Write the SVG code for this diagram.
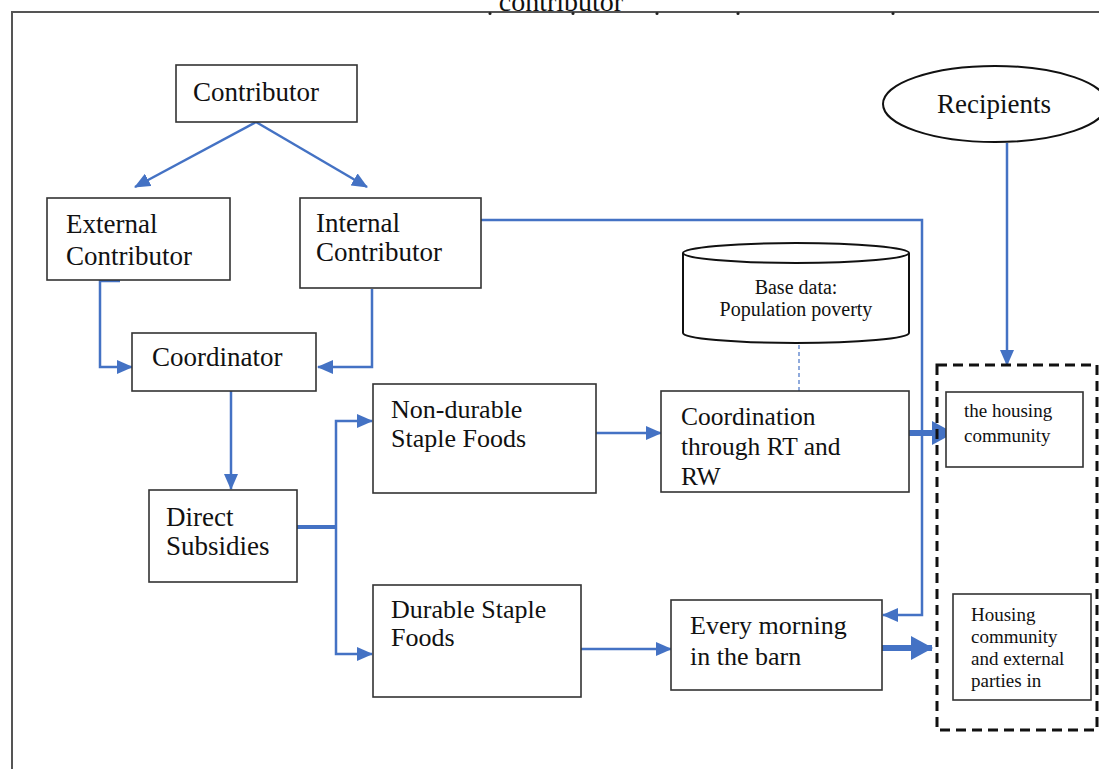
<svg xmlns="http://www.w3.org/2000/svg" width="1099" height="769" viewBox="0 0 1099 769">
<style>
.box{fill:#fff;stroke:#333;stroke-width:1.6}
.t{font-family:'Liberation Serif','DejaVu Serif',serif;font-size:26px;fill:#111}
.b{font-size:27px}
.s{font-family:'Liberation Serif','DejaVu Serif',serif;font-size:19px;fill:#111}
.c{fill:none;stroke:#4472C4;stroke-width:2.5}
.ck{fill:none;stroke:#4472C4;stroke-width:6}
</style>
<defs>
<marker id="ah" markerUnits="userSpaceOnUse" markerWidth="16" markerHeight="14" refX="15" refY="7" orient="auto">
<path d="M0,0 L16,7 L0,14 Z" fill="#4472C4"/>
</marker>
<marker id="ahb" markerUnits="userSpaceOnUse" markerWidth="22" markerHeight="24" refX="21" refY="12" orient="auto">
<path d="M0,0 L22,12 L0,24 Z" fill="#4472C4"/>
</marker>
</defs>
<rect width="1099" height="769" fill="#fff"/>
<g id="frame">
<path d="M12,769 L12,12 L1099,12" fill="none" stroke="#555" stroke-width="2"/>
<text x="561" y="11" text-anchor="middle" class="t" style="font-size:28px">contributor</text>
<g fill="#222">
<circle cx="490" cy="13.5" r="1.5"/>
<circle cx="573" cy="13.5" r="1.5"/>
<circle cx="657" cy="13.5" r="1.5"/>
<circle cx="738" cy="13.5" r="1.5"/>
<circle cx="893" cy="13.5" r="1.5"/>
</g>
</g>
<g id="connectors">
<path class="c" d="M256,122 L135,187" marker-end="url(#ah)"/>
<path class="c" d="M256,122 L367,187" marker-end="url(#ah)"/>
<path class="c" d="M120,281 L100,281 L100,367 L132,367" marker-end="url(#ah)"/>
<path class="c" d="M372,289 L372,367 L318,367" marker-end="url(#ah)"/>
<path class="c" d="M231,391 L231,489" marker-end="url(#ah)"/>
<path class="ck" d="M297,527 L336,527" style="stroke-width:4"/>
<path class="c" d="M336,527 L336,421 L372,421" marker-end="url(#ah)"/>
<path class="c" d="M336,527 L336,654 L372,654" marker-end="url(#ah)"/>
<path class="c" d="M596,433 L661,433" marker-end="url(#ah)"/>
<path class="c" d="M581,649 L671,649" marker-end="url(#ah)"/>
<path class="c" d="M481,220 L922,220 L922,615 L883,615" marker-end="url(#ah)"/>
<path class="ck" d="M909,433 L953,433" marker-end="url(#ahb)"/>
<path class="ck" d="M882,648 L932,648" marker-end="url(#ahb)"/>
<path class="c" d="M1007,143 L1007,365" marker-end="url(#ah)"/>
<path d="M799,345 L799,391" fill="none" stroke="#8faadc" stroke-width="2" stroke-dasharray="4 3"/>
</g>
<g id="contributor">
<rect class="box" x="176" y="65" width="181" height="57"/>
<text class="t b" x="193" y="101">Contributor</text>
</g>
<g id="external">
<rect class="box" x="47" y="198" width="183" height="82"/>
<text class="t b" x="66" y="233">External</text>
<text class="t b" x="66" y="265">Contributor</text>
</g>
<g id="internal">
<rect class="box" x="300" y="198" width="181" height="90"/>
<text class="t b" x="316" y="232">Internal</text>
<text class="t b" x="316" y="261">Contributor</text>
</g>
<g id="coordinator">
<rect class="box" x="132" y="333" width="184" height="58"/>
<text class="t b" x="152" y="366">Coordinator</text>
</g>
<g id="direct">
<rect class="box" x="149" y="490" width="148" height="92"/>
<text class="t b" x="166" y="526">Direct</text>
<text class="t b" x="166" y="555">Subsidies</text>
</g>
<g id="nondurable">
<rect class="box" x="373" y="384" width="223" height="109"/>
<text class="t" x="391" y="418">Non-durable</text>
<text class="t" x="391" y="447">Staple Foods</text>
</g>
<g id="durable">
<rect class="box" x="373" y="585" width="208" height="112"/>
<text class="t" x="391" y="618">Durable Staple</text>
<text class="t" x="391" y="646">Foods</text>
</g>
<g id="coordination">
<rect class="box" x="661" y="391" width="248" height="101"/>
<text class="t" x="681" y="425" style="font-size:25.5px">Coordination</text>
<text class="t" x="681" y="455" style="font-size:25.5px">through RT and</text>
<text class="t" x="681" y="485" style="font-size:25.5px">RW</text>
</g>
<g id="morning">
<rect class="box" x="671" y="600" width="211" height="90"/>
<text class="t" x="690" y="634">Every morning</text>
<text class="t" x="690" y="665">in the barn</text>
</g>
<g id="basedata">
<path d="M683,253 L683,333 A113,10 0 0 0 909,333 L909,253" fill="#fff" stroke="#111" stroke-width="2"/>
<ellipse cx="796" cy="253" rx="113" ry="10" fill="#fff" stroke="#111" stroke-width="2"/>
<text class="s" x="796" y="294" text-anchor="middle" style="font-size:20px">Base data:</text>
<text class="s" x="796" y="316" text-anchor="middle" style="font-size:20px">Population poverty</text>
</g>
<g id="recipients">
<ellipse cx="995" cy="104" rx="112" ry="38" fill="#fff" stroke="#111" stroke-width="2"/>
<text class="t b" x="994" y="113" text-anchor="middle">Recipients</text>
</g>
<g id="recipientgroup">
<rect x="937" y="365" width="160" height="365" fill="none" stroke="#111" stroke-width="3" stroke-dasharray="10 6"/>
</g>
<g id="housing">
<rect class="box" x="946" y="392" width="137" height="75"/>
<text class="s" x="964" y="417">the housing</text>
<text class="s" x="964" y="442">community</text>
</g>
<g id="housingext">
<rect class="box" x="953" y="594" width="138" height="106"/>
<text class="s" x="971" y="621">Housing</text>
<text class="s" x="971" y="643">community</text>
<text class="s" x="971" y="665">and external</text>
<text class="s" x="971" y="687">parties in</text>
</g>
</svg>
